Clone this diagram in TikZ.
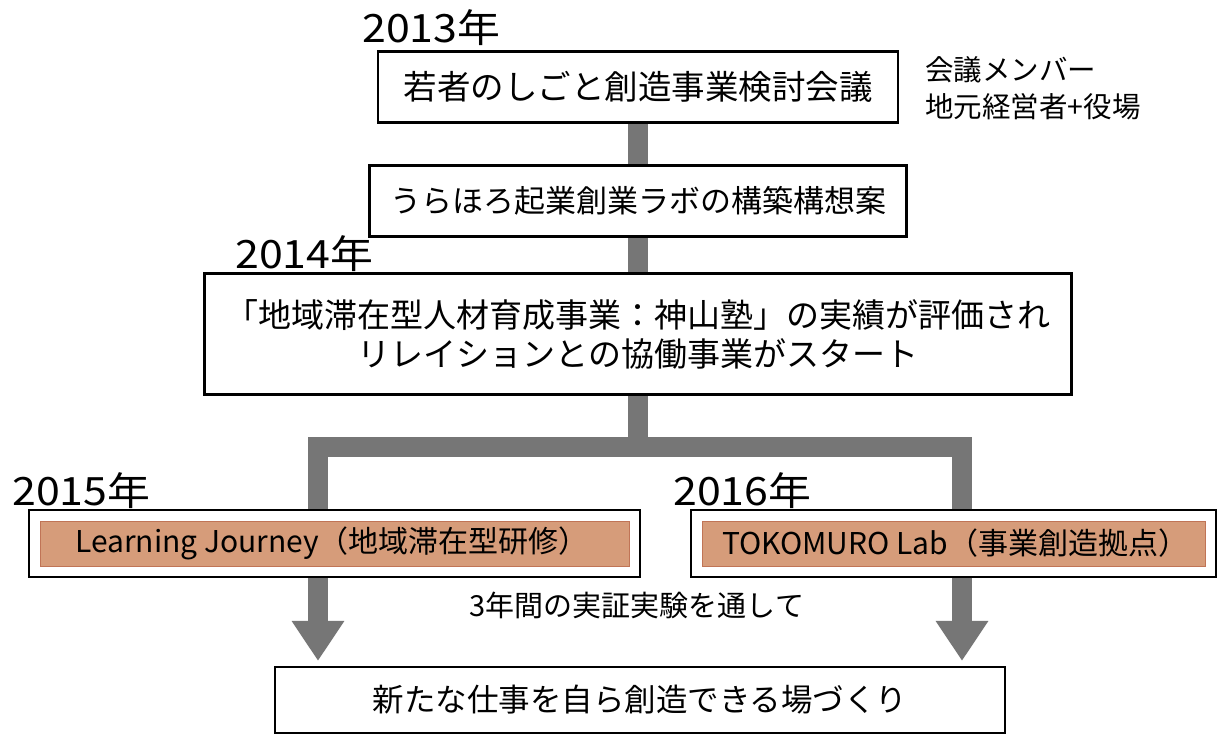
\documentclass[tikz,border=0pt]{standalone}
\usepackage{fontspec}
\setmainfont{Noto Sans CJK JP}
\usetikzlibrary{arrows.meta}
\definecolor{bargray}{RGB}{118,118,118}
\definecolor{labfill}{RGB}{214,156,122}
\definecolor{labedge}{RGB}{192,116,86}
\newcommand{\yr}[1]{\scalebox{1.1}[1]{#1}}
\begin{document}
\begin{tikzpicture}[x=1pt,y=-1pt,
  box/.style={draw=black, line width=2.2pt, fill=white, inner sep=0pt},
  bar/.style={draw=bargray, line width=19.5pt, line join=miter},
  arr/.tip={Triangle[length=40pt,width=50pt]},
  year/.style={anchor=base west, inner sep=0pt, font=\fontsize{39}{39}\selectfont},
  txt/.style={inner sep=0pt}]
\useasboundingbox (0,0) rectangle (1218,735);
\fill[white] (0,0) rectangle (1218,735);

% boxes (frames)
\node[box, minimum width=520pt, minimum height=71pt] (box1) at (638,87) {};
\node[box, minimum width=537pt, minimum height=71pt] (box2) at (638,201) {};
\node[box, minimum width=867pt, minimum height=121pt] (box3) at (638,334) {};
\coordinate (hl) at (318,447);
\coordinate (hr) at (962,447);
\node[box, minimum width=730pt, minimum height=66pt] (box6) at (640,700) {};

% gray connectors
\draw[bar] (box1.south) -- (box1.south |- box2.north);
\draw[bar] (box2.south) -- (box2.south |- box3.north);
\draw[bar] (box3.south) -- (box3.south |- hl);
\draw[bar, arr-arr, shorten <=5pt, shorten >=5pt] (box6.north -| hl) -- (hl) -- (hr) -- (box6.north -| hr);

% boxes on top of the bars
\node[box, minimum width=520pt, minimum height=71pt, font=\fontsize{33.5}{40}\selectfont] (box1) at (638,87) {若者のしごと創造事業検討会議};
\node[box, minimum width=537pt, minimum height=71pt, font=\fontsize{31}{40}\selectfont] (box2) at (638,201) {うらほろ起業創業ラボの構築構想案};
\node[box, minimum width=867pt, minimum height=121pt, align=center, font=\fontsize{33}{39}\selectfont] (box3) at (638,334) {「地域滞在型人材育成事業：神山塾」の実績が評価され\\リレイションとの協働事業がスタート};

\node[box, minimum width=611pt, minimum height=67pt] (box4) at (334.5,543.5) {};
\fill[labfill, draw=labedge, line width=0.6pt] ([shift={(12,12)}]box4.north west) rectangle ([shift={(-12,-12)}]box4.south east);
\node[txt, anchor=west, font=\fontsize{30}{36}\selectfont] (box4t) at ([xshift=47pt]box4.west) {Learning Journey（地域滞在型研修）};

\node[box, minimum width=525pt, minimum height=67pt] (box5) at (953.5,543.5) {};
\fill[labfill, draw=labedge, line width=0.6pt] ([shift={(12,12)}]box5.north west) rectangle ([shift={(-12,-12)}]box5.south east);
\node[txt, anchor=west, font=\fontsize{30}{36}\selectfont] (box5t) at ([xshift=32pt]box5.west) {TOKOMURO Lab（事業創造拠点）};

\node[box, minimum width=730pt, minimum height=66pt, font=\fontsize{31.5}{40}\selectfont] (box6) at (640,700) {新たな仕事を自ら創造できる場づくり};

% years
\node[year] (y2013) at (362,43) {\yr{2013年}};
\node[year] (y2014) at (235,269) {\yr{2014年}};
\node[year] (y2015) at (12,505) {\yr{2015年}};
\node[year] (y2016) at (673,505) {\yr{2016年}};

% side notes
\node[txt, anchor=west, align=left, font=\fontsize{28.5}{37}\selectfont] (members) at (925,88) {会議メンバー\\地元経営者+役場};

\node[txt, font=\fontsize{29}{36}\selectfont] (via) at (637,605) {3年間の実証実験を通して};
\end{tikzpicture}
\end{document}
